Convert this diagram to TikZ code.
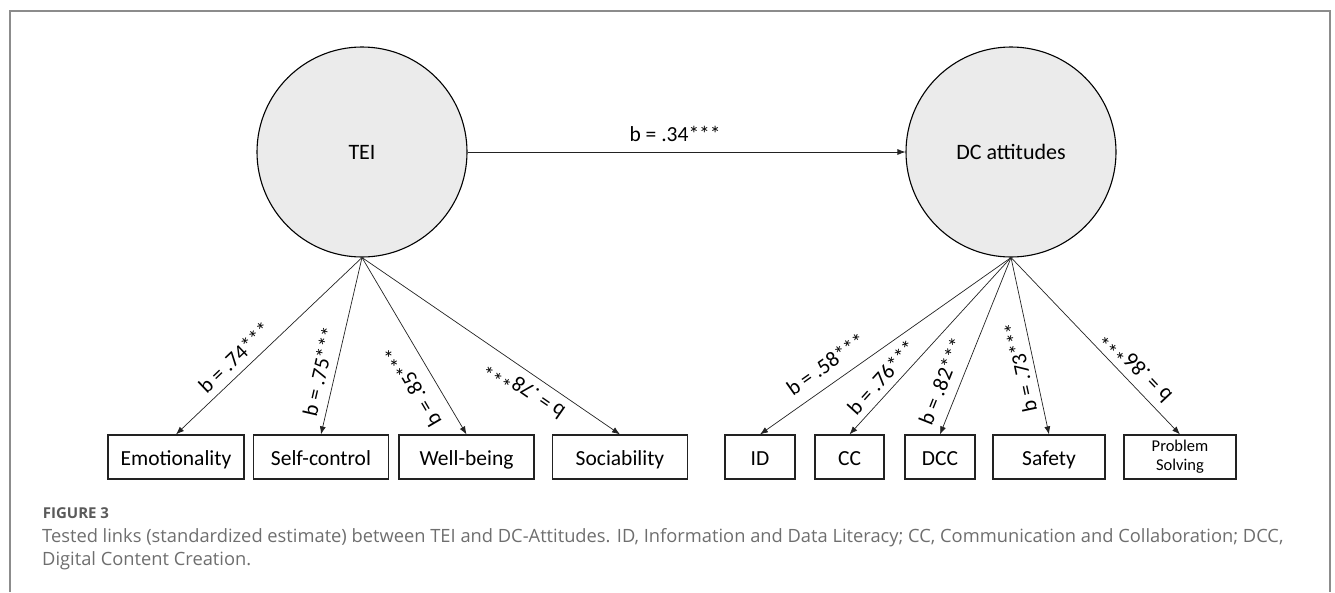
\documentclass[tikz,border=0pt]{standalone}
\usepackage{fontspec}
\setmainfont{Carlito}
\newfontfamily\capfont{Open Sans}
\usetikzlibrary{arrows.meta}
\definecolor{circfill}{HTML}{EBEBEB}
\definecolor{framegray}{HTML}{8C8C8C}
\definecolor{capgray}{HTML}{6E6E6E}
\definecolor{figgray}{HTML}{5A5A5A}
\definecolor{ink}{HTML}{222222}
\begin{document}
\begin{tikzpicture}[x=1pt,y=-1pt,
  latent/.style={circle, draw=black, line width=1.1pt, fill=circfill, minimum size=210pt, inner sep=0pt, font=\fontsize{22}{26}\selectfont},
  obs/.style={draw=ink, line width=1.2pt, minimum height=44pt, inner sep=0pt, text height=20pt, text depth=4pt, font=\fontsize{21.5}{25}\selectfont},
  smallobs/.style={draw=ink, line width=1.2pt, minimum height=44pt, inner sep=0pt, font=\fontsize{16.5}{20}\selectfont, align=center},
  link/.style={draw=ink, line width=0.7pt, -{Latex[length=8pt,width=6pt]}},
  coef/.style={font=\fontsize{21.5}{25}\selectfont, inner xsep=0pt, text=black},
  capline/.style={anchor=base west, inner sep=0pt, text=capgray, font=\capfont\fontsize{18.3}{21}\selectfont},
]
\useasboundingbox (0,0) rectangle (1335,592);
\draw[framegray, line width=2pt] (10,592) -- (10,11) -- (1330,11) -- (1330,592);

% latent variables
\node[latent] (TEI) at (362,152) {TEI};
\node[latent] (DC) at (1011,152) {DC attitudes};

% indicators of TEI
\node[obs, minimum width=136pt] (emo) at (176,457) {Emotionality};
\node[obs, minimum width=135pt] (self) at (321,457) {Self-control};
\node[obs, minimum width=135pt] (well) at (466.5,457) {Well-being};
\node[obs, minimum width=135pt] (soc) at (620,457) {Sociability};

% indicators of DC attitudes
\node[obs, minimum width=70pt] (id) at (760,457) {ID};
\node[obs, minimum width=69pt] (cc) at (849.5,457) {CC};
\node[obs, minimum width=70pt] (dcc) at (940,457) {DCC};
\node[obs, minimum width=112pt] (safe) at (1049,457) {Safety};
\node[smallobs, minimum width=112pt] (ps) at (1180,457) {Problem\\[-1pt]Solving};

% structural path
\draw[link] (TEI.east) -- (DC.west)
  node[coef, pos=0.474, anchor=south, inner ysep=9.5pt] {b = .34***};

% loadings TEI
\draw[link] (TEI.south) -- (emo.north)
  node[coef, pos=0.628, rotate=43.7, anchor=south, inner ysep=7.3pt] {b = .74***};
\draw[link] (TEI.south) -- (self.north)
  node[coef, pos=0.665, rotate=77, anchor=south, inner ysep=7.5pt] {b = .75***};
\draw[link] (TEI.south) -- (well.north)
  node[coef, pos=0.664, rotate=120.4, anchor=south, inner ysep=13.5pt] {b = .85***};
\draw[link] (TEI.south) -- (soc.north)
  node[coef, pos=0.668, rotate=145.4, anchor=south, inner ysep=8.5pt] {b = .78***};

% loadings DC attitudes
\draw[link] (DC.south) -- (id.north)
  node[coef, pos=0.693, rotate=35.3, anchor=south, inner ysep=11.4pt] {b = .58***};
\draw[link] (DC.south) -- (cc.north)
  node[coef, pos=0.733, rotate=47.8, anchor=south, inner ysep=6.7pt] {b = .76***};
\draw[link] (DC.south) -- (dcc.north)
  node[coef, pos=0.739, rotate=68.3, anchor=south, inner ysep=10.3pt] {b = .82***};
\draw[link] (DC.south) -- (safe.north)
  node[coef, pos=0.603, rotate=102, anchor=south, inner ysep=5.7pt] {b = .73***};
\draw[link] (DC.south) -- (ps.north)
  node[coef, pos=0.676, rotate=133.5, anchor=north, inner ysep=7.4pt] {b = .86***};

% caption
\node[anchor=base west, inner sep=0pt, text=figgray, font=\capfont\bfseries\fontsize{15}{17}\selectfont] (figlab) at (42.7,518.3) {FIGURE 3};
\node[capline] (cap1) at (42,542.7) {Tested links (standardized estimate) between TEI and DC-Attitudes. ID, Information and Data Literacy; CC, Communication and Collaboration; DCC,};
\node[capline] (cap2) at (42,565.3) {Digital Content Creation.};
\end{tikzpicture}
\end{document}
